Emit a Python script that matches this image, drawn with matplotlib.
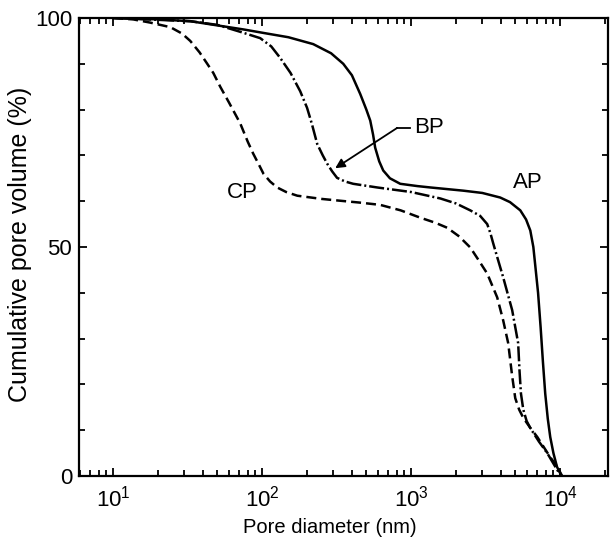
import matplotlib
matplotlib.use("Agg")
import matplotlib.pyplot as plt
import numpy as np

plt.rcParams['font.family'] = ['Liberation Sans', 'DejaVu Sans']
plt.rcParams['mathtext.fontset'] = 'custom'
plt.rcParams['mathtext.rm'] = 'Liberation Sans'
plt.rcParams['mathtext.it'] = 'Liberation Sans'

# Pore diameter (nm) and cumulative pore volume (%)
ap_d = [10, 20, 33, 52, 75, 108, 150, 220, 290, 350, 400, 455, 500, 531, 555, 573,
        610, 649, 720, 844, 1100, 1343, 2234, 3000, 3956, 4600, 5395, 5900, 6297,
        6600, 6797, 7100, 7385, 7650, 7930, 8250, 8570, 9000, 9510, 10200]
ap_v = [100, 99.7, 99.3, 98.3, 97.5, 96.6, 95.8, 94.3, 92.3, 90.0, 87.5, 83.4, 80.0, 77.6, 74.5, 71.7,
        68.7, 66.7, 65.0, 63.8, 63.3, 63.0, 62.3, 61.8, 60.8, 59.8, 58.0, 56.0, 53.6,
        50.0, 46.0, 40.0, 32.5, 25.0, 18.0, 12.5, 8.5, 5.0, 2.0, 0]

bp_d = [10, 20, 33, 50, 71, 97, 115, 132, 155, 180, 200, 215, 234, 255, 273, 295,
        318, 360, 408, 591, 1000, 1567, 2000, 2490, 2900, 3236, 3400, 3550, 3800, 4140,
        4760, 5220, 5330, 5450, 5650, 5950, 6290, 7200, 8180, 9550, 10200]
bp_v = [100, 99.6, 99.3, 98.5, 97.0, 95.6, 93.8, 91.3, 88.0, 84.0, 80.4, 77.0, 72.5, 70.0, 68.2, 66.5,
        65.1, 64.3, 63.8, 63.0, 62.0, 60.6, 59.5, 58.0, 56.8, 55.0, 53.0, 50.8, 47.5, 43.4,
        36.2, 29.0, 23.0, 18.0, 14.5, 12.0, 10.5, 7.5, 5.0, 1.3, 0]

cp_d = [10, 13.6, 17.7, 24.2, 29, 32.9, 38, 42.8, 47, 52.3, 60, 71.2, 80, 87, 95,
        102, 113, 126, 145, 172, 250, 334, 450, 619, 850, 1150, 1450, 1745, 2100,
        2490, 2850, 3236, 3776, 4140, 4475, 4750, 4990, 5300, 5650, 6300, 7020, 8570,
        9550, 10300]
cp_v = [100, 99.7, 99.0, 98.0, 96.6, 95.0, 92.5, 90.0, 88.0, 85.0, 81.5, 77.0, 73.0, 70.4, 68.0,
        66.0, 64.3, 63.0, 62.0, 61.2, 60.5, 60.1, 59.7, 59.2, 58.0, 56.4, 55.3, 54.2, 52.3,
        49.9, 47.0, 44.2, 39.0, 34.0, 29.0, 22.0, 17.0, 14.5, 12.7, 10.5, 8.5, 4.1,
        2.0, 0]

series_labels = ['AP', 'BP', 'CP']
label_pos = {'AP': (6095, 64), 'BP': (1321, 76), 'CP': (73.5, 62)}
arrow_tail = (805, 76)
arrow_start = (984, 76)
arrow_head = (309, 67.2)

x_ticks = [10, 100, 1000, 10000]
x_ticklabels = [r'$10^1$', r'$10^2$', r'$10^3$', r'$10^4$']
y_ticks = [0, 50, 100]

fig = plt.figure(figsize=(6.11, 5.39), dpi=100)
ax = fig.add_axes([0.1293, 0.1169, 0.8657, 0.8497])

lw = 1.8
ax.plot(ap_d, ap_v, color='black', lw=lw, solid_capstyle='round', solid_joinstyle='round')
ax.plot(bp_d, bp_v, color='black', lw=lw, dashes=(6, 1.2, 0.8, 1.2))
ax.plot(cp_d, cp_v, color='black', lw=lw, dashes=(4, 2))

ax.set_xscale('log')
ax.set_xlim(5.9, 20900)
ax.set_ylim(0, 100)

ax.set_xticks(x_ticks)
ax.set_xticklabels(x_ticklabels)
ax.xaxis.set_minor_locator(matplotlib.ticker.LogLocator(base=10, subs=np.arange(2, 10)))
ax.xaxis.set_minor_formatter(matplotlib.ticker.NullFormatter())
ax.set_yticks(y_ticks)
ax.set_yticks(np.arange(10, 100, 10), minor=True)

ax.tick_params(which='both', direction='in', top=True, right=True, width=1.3, colors='black')
ax.tick_params(which='major', length=5.5, labelsize=16)
ax.tick_params(which='minor', length=4)
ax.tick_params(axis='x', which='major', pad=7)
ax.tick_params(axis='y', which='major', pad=5)

for s in ax.spines.values():
    s.set_linewidth(1.6)

ax.set_xlabel('Pore diameter (nm)', fontsize=14.5)
ax.set_ylabel('Cumulative pore volume (%)', fontsize=18)
ax.xaxis.set_label_coords(0.474, -0.092)
ax.yaxis.set_label_coords(-0.089, 0.505)

for name in series_labels:
    x, y = label_pos[name]
    ax.text(x, y, name, fontsize=16, ha='center', va='center')

ax.plot([arrow_start[0], arrow_tail[0]], [arrow_start[1], arrow_tail[1]], color='black', lw=1.3)
ax.annotate('', xy=arrow_head, xytext=arrow_tail,
            arrowprops=dict(arrowstyle='-|>', color='black', lw=1.3,
                            mutation_scale=14, shrinkA=0, shrinkB=0))

fig.savefig('out.png', dpi=100)
